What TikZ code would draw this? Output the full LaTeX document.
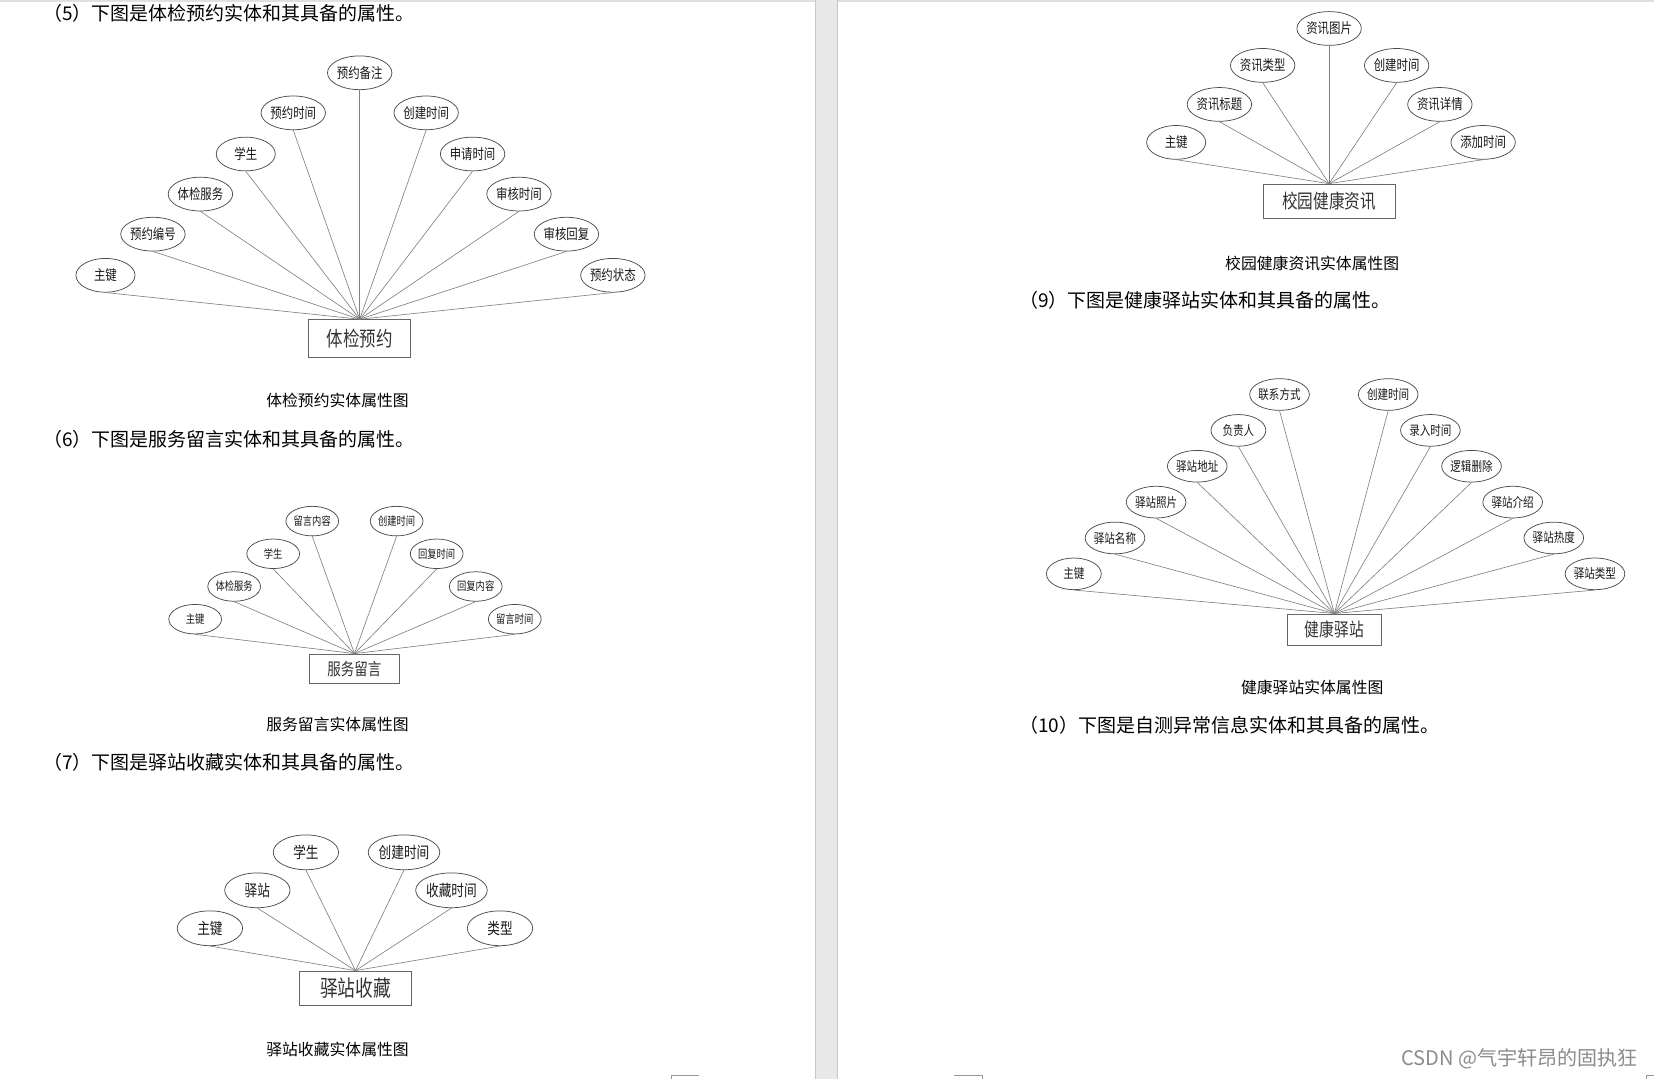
\documentclass[tikz,border=0pt]{standalone}
\usepackage{fontspec}
\setmainfont{Noto Sans CJK SC}
\newfontfamily\narrowcjk[FakeStretch=0.8]{Noto Sans CJK SC}
\usetikzlibrary{shapes.geometric}
\newcommand{\fsz}[1]{\fontsize{#1}{#1}\selectfont}

\begin{document}
\begin{tikzpicture}[x=1pt,y=-1pt]
 	\tikzstyle{attr}=[ellipse, draw=black!70, line width=0.7pt, inner sep=0pt, text=black!90]
 	\tikzstyle{attrA}=[attr, minimum width=56, minimum height=32, font=\narrowcjk\fsz{13.5}]
 	\tikzstyle{attrB}=[attr, minimum width=50, minimum height=28, font=\narrowcjk\fsz{11}]
 	\tikzstyle{attrC}=[attr, minimum width=62, minimum height=33, font=\narrowcjk\fsz{15}]
 	\tikzstyle{attrE}=[attr, minimum width=52, minimum height=30, font=\narrowcjk\fsz{12.5}]
 	\tikzstyle{entity}=[rectangle, draw=black!60, line width=0.8pt, inner sep=0pt, text=black!80]
 	\tikzstyle{connect}=[draw=black!50, line width=0.6pt]
 	\tikzstyle{heading}=[anchor=west, inner sep=0pt, font=\fsz{18}]
 	\tikzstyle{caption}=[inner sep=0pt, font=\fsz{15}]
 	% page frame
 	\useasboundingbox (0,0) rectangle (1568,1023);
 	\fill[white] (0,0) rectangle (1568,1023);
 	\fill[black!12] (0,0) rectangle (1568,2);
 	\fill[black!9] (773,0) rectangle (794,1023);
 	\draw[black!22, line width=0.8pt] (773,0) -- (773,1023) (794,0) -- (794,1023);
 	\draw[black!40, line width=0.6pt] (636,1023) -- (636,1019) -- (663,1019);
 	\draw[black!40, line width=0.6pt] (904,1019) -- (931,1019) -- (931,1023);
 	\draw[black!40, line width=0.6pt] (1561,1023) -- (1561,1019) -- (1568,1019);

 	% (5) tijian yuyue
 	\node[heading] (head5) at (41,13) {（5）下图是体检预约实体和其具备的属性。};
 	\node[entity, minimum width=97, minimum height=36, font=\narrowcjk\fsz{19.5}] (yuyue) at (341,321) {体检预约};
 	\node[attrA] (zhujian5) at (100,261) {主键};
 	\node[attrA] (bianhao5) at (145,222) {预约编号};
 	\node[attrA] (fuwu5) at (190,184) {体检服务};
 	\node[attrA] (xuesheng5) at (233,146) {学生};
 	\node[attrA] (yytime5) at (278,107) {预约时间};
 	\node[attrA] (beizhu5) at (341,69) {预约备注};
 	\node[attrA] (create5) at (404,107) {创建时间};
 	\node[attrA] (shenqing5) at (448,146) {申请时间};
 	\node[attrA] (shenhe5) at (492,184) {审核时间};
 	\node[attrA] (huifu5) at (537,222) {审核回复};
 	\node[attrA] (zhuangtai5) at (581,261) {预约状态};
 	\path (zhujian5.south) edge [connect] (yuyue.north)
 	(bianhao5.south) edge [connect] (yuyue.north)
 	(fuwu5.south) edge [connect] (yuyue.north)
 	(xuesheng5.south) edge [connect] (yuyue.north)
 	(yytime5.south) edge [connect] (yuyue.north)
 	(beizhu5.south) edge [connect] (yuyue.north)
 	(create5.south) edge [connect] (yuyue.north)
 	(shenqing5.south) edge [connect] (yuyue.north)
 	(shenhe5.south) edge [connect] (yuyue.north)
 	(huifu5.south) edge [connect] (yuyue.north)
 	(zhuangtai5.south) edge [connect] (yuyue.north);
 	\node[caption] (cap5) at (320,380) {体检预约实体属性图};

 	% (6) fuwu liuyan
 	\node[heading] (head6) at (41,416) {（6）下图是服务留言实体和其具备的属性。};
 	\node[entity, minimum width=85, minimum height=28, font=\narrowcjk\fsz{16}] (liuyan) at (336,634) {服务留言};
 	\node[attrB] (zhujian6) at (185,587) {主键};
 	\node[attrB] (fuwu6) at (222,556) {体检服务};
 	\node[attrB] (xuesheng6) at (259,525) {学生};
 	\node[attrB] (neirong6) at (296,494) {留言内容};
 	\node[attrB] (create6) at (376,494) {创建时间};
 	\node[attrB] (hftime6) at (414,525) {回复时间};
 	\node[attrB] (hfneirong6) at (451,556) {回复内容};
 	\node[attrB] (lytime6) at (488,587) {留言时间};
 	\path (zhujian6.south) edge [connect] (liuyan.north)
 	(fuwu6.south) edge [connect] (liuyan.north)
 	(xuesheng6.south) edge [connect] (liuyan.north)
 	(neirong6.south) edge [connect] (liuyan.north)
 	(create6.south) edge [connect] (liuyan.north)
 	(hftime6.south) edge [connect] (liuyan.north)
 	(hfneirong6.south) edge [connect] (liuyan.north)
 	(lytime6.south) edge [connect] (liuyan.north);
 	\node[caption] (cap6) at (320,687) {服务留言实体属性图};

 	% (7) yizhan shoucang
 	\node[heading] (head7) at (41,723) {（7）下图是驿站收藏实体和其具备的属性。};
 	\node[entity, minimum width=106, minimum height=33, font=\narrowcjk\fsz{21}] (shoucang) at (337,937) {驿站收藏};
 	\node[attrC] (zhujian7) at (199,880) {主键};
 	\node[attrC] (yizhan7) at (244,844) {驿站};
 	\node[attrC] (xuesheng7) at (290,808) {学生};
 	\node[attrC] (create7) at (383,808) {创建时间};
 	\node[attrC] (sctime7) at (428,844) {收藏时间};
 	\node[attrC] (leixing7) at (474,880) {类型};
 	\path (zhujian7.south) edge [connect] (shoucang.north)
 	(yizhan7.south) edge [connect] (shoucang.north)
 	(xuesheng7.south) edge [connect] (shoucang.north)
 	(create7.south) edge [connect] (shoucang.north)
 	(sctime7.south) edge [connect] (shoucang.north)
 	(leixing7.south) edge [connect] (shoucang.north);
 	\node[caption] (cap7) at (320,995) {驿站收藏实体属性图};

 	% (8) xiaoyuan jiankang zixun
 	\node[entity, minimum width=125, minimum height=33, font=\narrowcjk\fsz{18.5}] (zixun) at (1260,191) {校园健康资讯};
 	\node[attrA] (zhujian8) at (1115,135) {主键};
 	\node[attrA] (biaoti8) at (1156,99) {资讯标题};
 	\node[attrA] (leixing8) at (1197,62) {资讯类型};
 	\node[attrA] (tupian8) at (1260,27) {资讯图片};
 	\node[attrA] (create8) at (1324,62) {创建时间};
 	\node[attrA] (xiangqing8) at (1365,99) {资讯详情};
 	\node[attrA] (tianjia8) at (1406,135) {添加时间};
 	\path (zhujian8.south) edge [connect] (zixun.north)
 	(biaoti8.south) edge [connect] (zixun.north)
 	(leixing8.south) edge [connect] (zixun.north)
 	(tupian8.south) edge [connect] (zixun.north)
 	(create8.south) edge [connect] (zixun.north)
 	(xiangqing8.south) edge [connect] (zixun.north)
 	(tianjia8.south) edge [connect] (zixun.north);
 	\node[caption] (cap8) at (1244,250) {校园健康资讯实体属性图};

 	% (9) jiankang yizhan
 	\node[heading] (head9) at (966,285) {（9）下图是健康驿站实体和其具备的属性。};
 	\node[entity, minimum width=89, minimum height=30, font=\narrowcjk\fsz{17.5}] (yizhan) at (1265,597) {健康驿站};
 	\node[attrE] (zhujian9) at (1018,544) {主键};
 	\node[attrE] (mingcheng9) at (1057,510) {驿站名称};
 	\node[attrE] (zhaopian9) at (1096,476) {驿站照片};
 	\node[attrE] (dizhi9) at (1135,442) {驿站地址};
 	\node[attrE] (fuze9) at (1174,408) {负责人};
 	\node[attrE] (lianxi9) at (1213,374) {联系方式};
 	\node[attrE] (create9) at (1316,374) {创建时间};
 	\node[attrE] (luru9) at (1356,408) {录入时间};
 	\node[attrE] (shanchu9) at (1395,442) {逻辑删除};
 	\node[attrE] (jieshao9) at (1434,476) {驿站介绍};
 	\node[attrE] (redu9) at (1473,510) {驿站热度};
 	\node[attrE] (leixing9) at (1512,544) {驿站类型};
 	\path (zhujian9.south) edge [connect] (yizhan.north)
 	(mingcheng9.south) edge [connect] (yizhan.north)
 	(zhaopian9.south) edge [connect] (yizhan.north)
 	(dizhi9.south) edge [connect] (yizhan.north)
 	(fuze9.south) edge [connect] (yizhan.north)
 	(lianxi9.south) edge [connect] (yizhan.north)
 	(create9.south) edge [connect] (yizhan.north)
 	(luru9.south) edge [connect] (yizhan.north)
 	(shanchu9.south) edge [connect] (yizhan.north)
 	(jieshao9.south) edge [connect] (yizhan.north)
 	(redu9.south) edge [connect] (yizhan.north)
 	(leixing9.south) edge [connect] (yizhan.north);
 	\node[caption] (cap9) at (1244,652) {健康驿站实体属性图};

 	% (10)
 	\node[heading] (head10) at (966,688) {（10）下图是自测异常信息实体和其具备的属性。};
 	\node[anchor=east, inner sep=0pt, text=black!45, font=\fsz{19}] (mark) at (1553,1004) {CSDN @气宇轩昂的固执狂};
\end{tikzpicture}
\end{document}
